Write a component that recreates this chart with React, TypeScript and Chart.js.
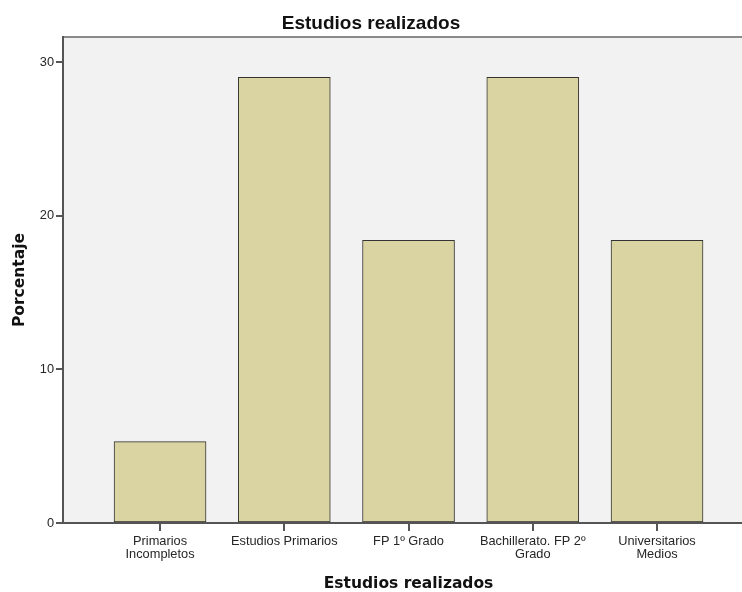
import React, { useEffect, useRef } from "react";
import { Chart, registerables } from "chart.js";

Chart.register(...registerables);

const categories: string[][] = [
  ["Primarios", "Incompletos"],
  ["Estudios Primarios"],
  ["FP 1º Grado"],
  ["Bachillerato. FP 2º", "Grado"],
  ["Universitarios", "Medios"],
];
const categoryPositions = [0, 1, 2, 3, 4];
const percentages = [5.3, 29.0, 18.4, 29.0, 18.4];
const yTicks = [0, 10, 20, 30];

const chartTitle = "Estudios realizados";
const xTitle = "Estudios realizados";
const yTitle = "Porcentaje";

const textPlugin = {
  id: "spssText",
  beforeDraw(chart: any) {
    const { ctx, chartArea } = chart;
    ctx.save();
    ctx.fillStyle = "#f2f2f2";
    ctx.fillRect(chartArea.left, chartArea.top, chartArea.right - chartArea.left, chartArea.bottom - chartArea.top);
    ctx.strokeStyle = "#8a8a8a";
    ctx.lineWidth = 2;
    ctx.beginPath();
    ctx.moveTo(chartArea.left, chartArea.top);
    ctx.lineTo(chartArea.right, chartArea.top);
    ctx.stroke();
    ctx.restore();
  },
  afterDraw(chart: any) {
    const { ctx, chartArea } = chart;
    ctx.save();
    ctx.fillStyle = "#111";
    ctx.textAlign = "center";
    ctx.textBaseline = "alphabetic";
    ctx.font = "bold 19px 'Liberation Sans', Arial, sans-serif";
    ctx.fillText(chartTitle, chart.width / 2, 29);
    ctx.font = "bold 15.5px 'DejaVu Sans', sans-serif";
    const xs = chart.scales.x;
    const cx = (xs.getPixelForValue(0) + xs.getPixelForValue(4)) / 2;
    ctx.fillText(xTitle, cx, 588);
    ctx.translate(24, (chartArea.top + chartArea.bottom) / 2);
    ctx.rotate(-Math.PI / 2);
    ctx.fillText(yTitle, 0, 0);
    ctx.restore();
  },
};

export default function App() {
  const ref = useRef<HTMLCanvasElement | null>(null);
  useEffect(() => {
    if (!ref.current) return;
    const tickFont = { family: "'Liberation Sans', Arial, sans-serif", size: 12.8, lineHeight: 1 };
    const chart = new Chart(ref.current, {
      type: "bar",
      data: {
        datasets: [
          {
            data: categoryPositions.map((x, i) => ({ x, y: percentages[i] })),
            backgroundColor: "#dad4a3",
            borderColor: "#333333",
            borderWidth: 1,
            borderSkipped: false,
            barThickness: 92,
          },
        ],
      },
      options: {
        animation: false,
        responsive: false,
        devicePixelRatio: 1,
        layout: { padding: { top: 37, left: 0, right: 0, bottom: 0 } },
        plugins: { legend: { display: false }, title: { display: false }, tooltip: { enabled: false } },
        scales: {
          x: {
            type: "linear",
            offset: false,
            min: -0.781,
            max: 4.684,
            afterBuildTicks: (s: any) => {
              s.ticks = categoryPositions.map((v) => ({ value: v }));
            },
            afterFit: (s: any) => {
              s.height = 69;
            },
            ticks: {
              autoSkip: false,
              maxRotation: 0,
              padding: 4,
              color: "#262626",
              font: tickFont,
              callback: (v: any) => categories[v as number] ?? "",
            },
            grid: { offset: false, drawOnChartArea: false, drawTicks: true, tickLength: 8, color: "#555", lineWidth: 2 },
            border: { display: true, color: "#555", width: 2 },
          },
          y: {
            type: "linear",
            min: 0,
            max: 31.63,
            afterBuildTicks: (s: any) => {
              s.ticks = yTicks.map((v) => ({ value: v }));
            },
            afterFit: (s: any) => {
              s.width = 63;
            },
            ticks: { padding: 2, color: "#262626", font: tickFont },
            grid: { drawOnChartArea: false, drawTicks: true, tickLength: 7, color: "#555", lineWidth: 2 },
            border: { display: true, color: "#555", width: 2 },
          },
        },
      } as any,
      plugins: [textPlugin],
    });
    return () => chart.destroy();
  }, []);
  return (
    <div style={{ position: "fixed", left: 0, top: 0, width: 742, height: 592, background: "#fff" }}>
      <canvas ref={ref} width={742} height={592} style={{ display: "block" }} />
    </div>
  );
}
